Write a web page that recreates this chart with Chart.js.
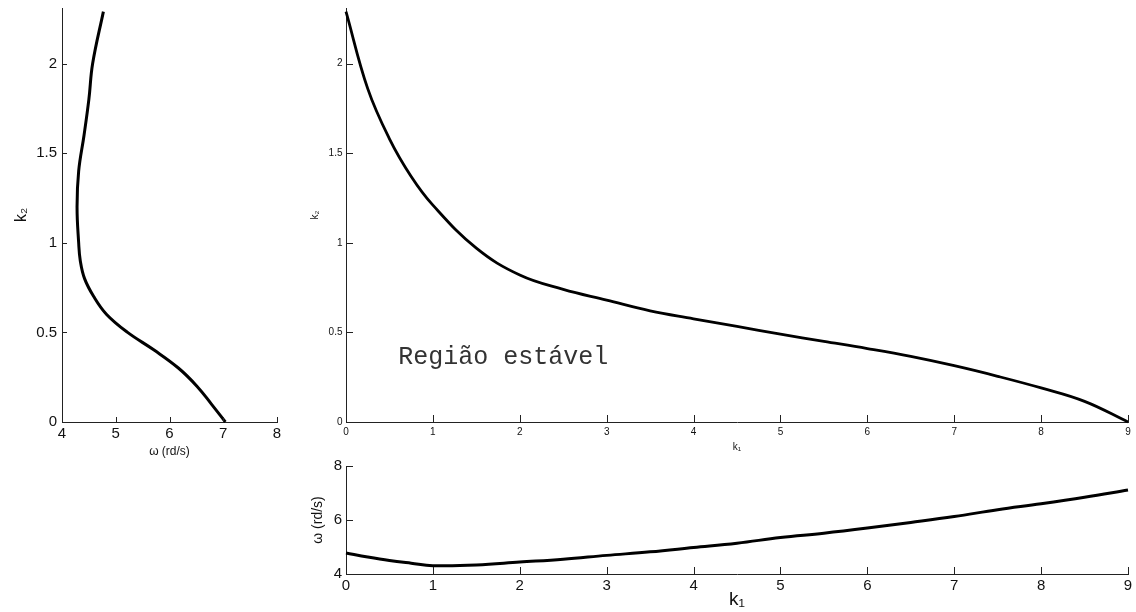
<!DOCTYPE html>
<html>
<head>
<meta charset="utf-8">
<script src="https://cdn.jsdelivr.net/npm/chart.js@4"></script>
<style>
  body { margin: 0; background: #fff; }
  #wrap { position: relative; width: 1136px; height: 612px; overflow: hidden; }
  canvas { position: absolute; }
</style>
</head>
<body>
<div id="wrap">
  <canvas id="sideChart" width="300" height="470" style="left:0;top:0"></canvas>
  <canvas id="mainChart" width="836" height="460" style="left:300px;top:0"></canvas>
  <canvas id="omegaChart" width="836" height="157" style="left:300px;top:455px"></canvas>
</div>
<script>
// fronteira de estabilidade no plano (k1, k2) e frequência de cruzamento
const k1Values = [0, 0.25, 0.5, 0.75, 1, 1.5, 2, 2.5, 3, 3.5, 4, 4.5, 5, 5.5, 6, 6.5, 7, 7.5, 8, 8.5, 9];
const k2Boundary = [2.29, 1.86, 1.58, 1.37, 1.21, 0.97, 0.82, 0.74, 0.68, 0.62, 0.576, 0.533, 0.49, 0.45, 0.41, 0.366, 0.314, 0.255, 0.19, 0.115, 0];
const omegaByK1 = [4.78, 4.63, 4.50, 4.40, 4.31, 4.33, 4.44, 4.55, 4.69, 4.82, 4.98, 5.14, 5.35, 5.51, 5.70, 5.91, 6.13, 6.38, 6.60, 6.84, 7.11];

// ω em função de k2 (painel lateral)
const k2Side = [0, 0.1, 0.2, 0.3, 0.4, 0.5, 0.6, 0.7, 0.8, 0.9, 1.0, 1.2, 1.4, 1.6, 1.8, 2.0, 2.29];
const omegaSide = [7.04, 6.78, 6.51, 6.17, 5.72, 5.22, 4.83, 4.59, 4.42, 4.34, 4.31, 4.28, 4.31, 4.41, 4.50, 4.57, 4.77];

// marcas dos eixos
const k1Ticks = [0, 1, 2, 3, 4, 5, 6, 7, 8, 9];
const k2Ticks = [0, 0.5, 1, 1.5, 2];
const omegaTicksSide = [4, 5, 6, 7, 8];
const omegaTicksBottom = [4, 6, 8];

const REGION_TEXT = 'Região estável';
const REGION_AT = [0.6, 0.36];

const FONT = '"Liberation Sans", Arial, Helvetica, sans-serif';
const INK = '#111';
const AXIS = '#222';

function axis(o) {
  return {
    type: 'linear',
    min: o.min,
    max: o.max,
    afterBuildTicks: s => { s.ticks = o.ticks.map(v => ({ value: v })); },
    afterFit: s => {
      if (o.horizontal) s.height = o.size; else s.width = o.size;
      // sem margem extra para os rótulos das pontas
      s.paddingTop = s.paddingBottom = s.paddingLeft = s.paddingRight = 0;
    },
    grid: { display: false, drawTicks: false, tickLength: 0 },
    border: { display: true, color: AXIS, width: 1 },
    ticks: {
      autoSkip: false, maxRotation: 0,
      font: { family: FONT, size: o.fontSize }, color: INK, padding: o.pad,
      callback: v => String(v)
    },
    title: {
      display: true, text: o.title, color: INK,
      font: { family: FONT, size: o.titleSize },
      padding: o.titlePad
    }
  };
}

function line(xs, ys, width) {
  return {
    data: xs.map((x, i) => ({ x: x, y: ys[i] })),
    showLine: true, borderColor: '#000', borderWidth: width,
    pointRadius: 0, tension: 0.4, clip: false, fill: false
  };
}

// marcas de escala voltadas para dentro (estilo MATLAB)
const inwardTicks = {
  id: 'inwardTicks',
  afterDraw(chart, args, opts) {
    const { ctx, chartArea } = chart;
    const len = opts.length || 6;
    ctx.save();
    ctx.strokeStyle = AXIS;
    ctx.lineWidth = 1;
    ctx.beginPath();
    Object.values(chart.scales).forEach(s => {
      s.ticks.forEach(t => {
        const p = Math.round(s.getPixelForValue(t.value)) + 0.5;
        if (s.isHorizontal()) {
          ctx.moveTo(p, chartArea.bottom);
          ctx.lineTo(p, chartArea.bottom - len);
        } else {
          ctx.moveTo(chartArea.left, p);
          ctx.lineTo(chartArea.left + len, p);
        }
      });
    });
    ctx.stroke();
    ctx.restore();
  }
};

function opts(padTop, padRight, tickLen, scales) {
  return {
    responsive: false, animation: false,
    layout: { padding: { top: padTop, right: padRight, left: 0, bottom: 0 } },
    plugins: { legend: { display: false }, tooltip: { enabled: false }, inwardTicks: { length: tickLen } },
    scales: scales
  };
}

const regionLabel = {
  id: 'regionLabel',
  afterDatasetsDraw(chart) {
    const { ctx, scales: { x, y } } = chart;
    ctx.save();
    ctx.font = '25px "Liberation Mono", "Courier New", monospace';
    ctx.fillStyle = '#333';
    ctx.textBaseline = 'middle';
    ctx.fillText(REGION_TEXT, x.getPixelForValue(REGION_AT[0]), y.getPixelForValue(REGION_AT[1]));
    ctx.restore();
  }
};

// painel lateral: k2 x ω
new Chart(document.getElementById('sideChart'), {
  type: 'scatter',
  data: { datasets: [line(omegaSide, k2Side, 3)] },
  options: opts(8, 23, 5, {
    x: axis({ min: 4, max: 8, ticks: omegaTicksSide, horizontal: true, size: 48,
      fontSize: 15, pad: 3, title: 'ω (rd/s)', titleSize: 12, titlePad: { top: 0, bottom: 11 } }),
    y: axis({ min: 0, max: 2.31, ticks: k2Ticks, size: 62,
      fontSize: 15, pad: 5, title: 'k₂', titleSize: 16, titlePad: { top: 12, bottom: 0 } })
  }),
  plugins: [inwardTicks]
});

// painel principal: k2 x k1
new Chart(document.getElementById('mainChart'), {
  type: 'scatter',
  data: { datasets: [line(k1Values, k2Boundary, 2.8)] },
  options: opts(8, 8, 7, {
    x: axis({ min: 0, max: 9, ticks: k1Ticks, horizontal: true, size: 38,
      fontSize: 10, pad: 4, title: 'k₁', titleSize: 10, titlePad: { top: 0, bottom: 7 } }),
    y: axis({ min: 0, max: 2.31, ticks: k2Ticks, size: 46,
      fontSize: 10, pad: 3.5, title: 'k₂', titleSize: 10, titlePad: { top: 9, bottom: 0 } })
  }),
  plugins: [inwardTicks, regionLabel]
});

// painel inferior: ω x k1
new Chart(document.getElementById('omegaChart'), {
  type: 'scatter',
  data: { datasets: [line(k1Values, omegaByK1, 3)] },
  options: opts(11, 8, 7, {
    x: axis({ min: 0, max: 9, ticks: k1Ticks, horizontal: true, size: 38,
      fontSize: 15, pad: 3, title: 'k₁', titleSize: 19, titlePad: { top: 0, bottom: 1 } }),
    y: axis({ min: 4, max: 8, ticks: omegaTicksBottom, size: 46,
      fontSize: 15, pad: 4, title: 'ω (rd/s)', titleSize: 14, titlePad: { top: 10, bottom: 0 } })
  }),
  plugins: [inwardTicks]
});
</script>
</body>
</html>
